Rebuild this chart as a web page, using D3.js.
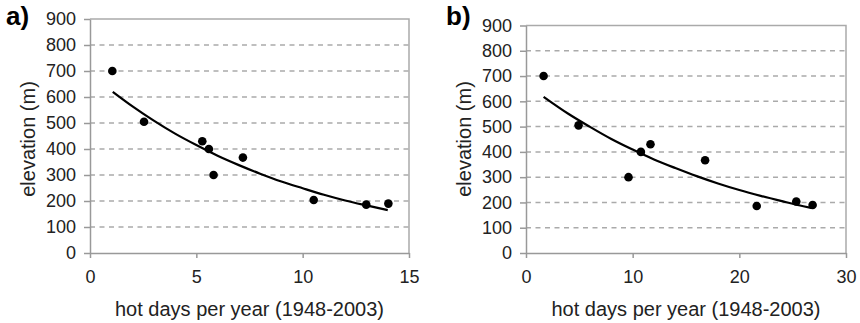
<!DOCTYPE html>
<html>
  <head>
    <script src="https://d3js.org/d3.v7.min.js" charset="utf-8"></script>
    <meta charset="UTF-8">
    <title>elevation vs hot days</title>
    <style>
      body { margin: 0; background: #fff; }
      text { font-family: "Liberation Sans", Arial, sans-serif; fill: #222; }
      .tick text { font-size: 18px; }
      .domain { stroke: #999; stroke-width: 1.5; }
      .tick line { stroke: #999; stroke-width: 1.5; }
      .grid { stroke: #aaa; stroke-width: 1.5; stroke-dasharray: 5,4.5; }
      .frame { stroke: #aaa; stroke-width: 1.5; fill: none; }
      .fit { fill: none; stroke: #000; stroke-width: 2.2; }
    </style>
  </head>
  <body>
    <svg class="chart"></svg>
    <script type="text/javascript">

     var width = 860,
         height = 323;

     // elevation of stations (m)
     var elevation = [700, 505, 430, 400, 300, 367, 204, 186, 190];

     // hot days per year, panel a and panel b
     var hotDaysA = [1.05, 2.54, 5.28, 5.59, 5.81, 7.19, 10.52, 12.99, 14.03];
     var hotDaysB = [1.65, 4.93, 11.67, 10.77, 9.61, 16.79, 25.34, 21.63, 26.87];

     // fitted curve
     var fitAx = [1.07, 2, 3, 4, 5, 6, 7, 8, 9, 10, 11, 12, 13, 14];
     var fitAy = [620, 564, 509, 459, 415, 374, 338, 305, 275, 249, 224, 202, 183, 165];
     var fitBx = [1.65, 4, 6, 8, 10, 12, 14, 16, 18, 20, 22, 24, 26, 26.8];
     var fitBy = [618, 550, 499, 451, 409, 370, 336, 304, 275, 249, 226, 205, 185, 178];

     var yTicks = [0, 100, 200, 300, 400, 500, 600, 700, 800, 900];
     var xTicksA = [0, 5, 10, 15];
     var xTicksB = [0, 10, 20, 30];

     var chart = d3.select(".chart")
                   .attr("width", width)
                   .attr("height", height);

     chart.append("rect").attr("width", width).attr("height", height).attr("fill", "#fff");

     function panel(opt) {
         var g = chart.append("g");
         var x = d3.scaleLinear().domain([0, opt.xmax]).range([opt.left, opt.right]);
         var y = d3.scaleLinear().domain([0, 900]).range([opt.bottom, opt.top]);

         // dashed grid
         g.append("g").selectAll("line")
          .data(yTicks.slice(1, -1))
          .enter().append("line")
          .attr("class", "grid")
          .attr("x1", opt.left).attr("x2", opt.right)
          .attr("y1", function(d) { return y(d); })
          .attr("y2", function(d) { return y(d); });

         // top and right border
         g.append("path").attr("class", "frame")
          .attr("d", "M" + opt.left + "," + y(900) + "H" + opt.right + "V" + opt.bottom);

         var yAxis = g.append("g")
                      .attr("transform", "translate(" + opt.left + ",0)")
                      .call(d3.axisLeft(y).tickValues(yTicks).tickSize(6).tickPadding(8).tickSizeOuter(0));
         var xAxis = g.append("g")
                      .attr("transform", "translate(0," + opt.bottom + ")")
                      .call(d3.axisBottom(x).tickValues(opt.xticks).tickSize(5).tickPadding(12).tickSizeOuter(0));
         g.selectAll(".tick text").attr("fill", "#222").attr("font-family", null).attr("font-size", null);
         g.selectAll(".domain").attr("stroke", null);
         g.selectAll(".tick line").attr("stroke", null);

         var line = d3.line()
                      .x(function(d) { return x(d[0]); })
                      .y(function(d) { return y(d[1]); })
                      .curve(d3.curveMonotoneX);
         g.append("path").attr("class", "fit")
          .attr("d", line(d3.zip(opt.fitx, opt.fity)));

         g.append("g").selectAll("circle")
          .data(d3.zip(opt.xs, elevation))
          .enter().append("circle")
          .attr("r", 4.3)
          .attr("fill", "#000")
          .attr("cx", function(d) { return x(d[0]); })
          .attr("cy", function(d) { return y(d[1]); });

         g.append("text")
          .attr("x", (opt.left + opt.right) / 2).attr("y", 316)
          .attr("text-anchor", "middle").style("font-size", "20px")
          .text("hot days per year (1948-2003)");

         g.append("text")
          .attr("transform", "translate(" + opt.ylabx + ",139) rotate(-90)")
          .attr("text-anchor", "middle").style("font-size", "20px")
          .text("elevation (m)");

         g.append("text")
          .attr("x", opt.tagx).attr("y", 25)
          .style("font-size", "26px").style("font-weight", "bold").style("fill", "#000")
          .text(opt.tag);
     }

     panel({left: 90, right: 409, top: 19, bottom: 253, xmax: 15, xticks: xTicksA,
            xs: hotDaysA, fitx: fitAx, fity: fitAy, ylabx: 35, tagx: 6, tag: "a)"});
     panel({left: 526, right: 846, top: 25.5, bottom: 253, xmax: 30, xticks: xTicksB,
            xs: hotDaysB, fitx: fitBx, fity: fitBy, ylabx: 471, tagx: 446, tag: "b)"});

    </script>
  </body>
</html>
